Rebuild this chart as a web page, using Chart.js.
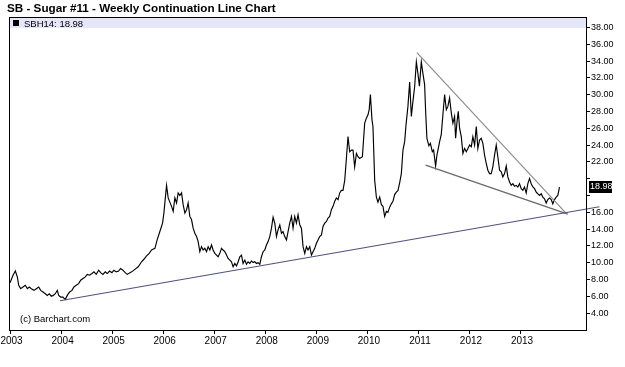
<!DOCTYPE html>
<html><head><meta charset="utf-8">
<script src="https://cdn.jsdelivr.net/npm/chart.js@4/dist/chart.umd.min.js"></script>
<style>html,body{margin:0;padding:0;background:#fff;}canvas{display:block;}</style>
</head><body>
<canvas id="c" width="625" height="367"></canvas>
<script>
const titleText = 'SB - Sugar #11 - Weekly Continuation Line Chart';
const seriesLabel = 'SBH14';
const lastPrice = 18.98;
const creditText = '(c) Barchart.com';

const years = [
2003.000,2003.059,2003.104,2003.143,2003.170,2003.209,2003.254,2003.299,2003.339,2003.378,
2003.417,2003.470,2003.515,2003.562,2003.601,2003.646,2003.691,2003.730,2003.769,2003.808,
2003.847,2003.886,2003.926,2003.953,2003.992,2004.037,2004.082,2004.121,2004.168,2004.213,
2004.252,2004.297,2004.344,2004.384,2004.429,2004.474,2004.513,2004.560,2004.605,2004.644,
2004.689,2004.736,2004.775,2004.820,2004.865,2004.904,2004.951,2004.996,2005.035,2005.080,
2005.127,2005.166,2005.211,2005.256,2005.295,2005.382,2005.446,2005.511,2005.577,2005.622,
2005.675,2005.726,2005.773,2005.838,2005.882,2005.935,2005.988,2006.014,2006.039,2006.066,
2006.098,2006.131,2006.164,2006.196,2006.229,2006.262,2006.293,2006.327,2006.360,2006.391,
2006.425,2006.458,2006.489,2006.522,2006.556,2006.587,2006.620,2006.654,2006.685,2006.718,
2006.751,2006.783,2006.816,2006.849,2006.881,2006.914,2006.947,2006.978,2007.012,2007.045,
2007.076,2007.109,2007.143,2007.174,2007.207,2007.241,2007.272,2007.305,2007.338,2007.370,
2007.403,2007.436,2007.468,2007.501,2007.534,2007.565,2007.599,2007.632,2007.663,2007.697,
2007.730,2007.761,2007.794,2007.828,2007.859,2007.892,2007.925,2007.957,2007.990,2008.023,
2008.055,2008.088,2008.121,2008.153,2008.186,2008.219,2008.250,2008.284,2008.317,2008.348,
2008.381,2008.415,2008.446,2008.479,2008.513,2008.544,2008.577,2008.610,2008.642,2008.675,
2008.708,2008.740,2008.773,2008.806,2008.837,2008.871,2008.904,2008.935,2008.969,2009.002,
2009.033,2009.066,2009.100,2009.131,2009.164,2009.198,2009.229,2009.262,2009.295,2009.327,
2009.360,2009.393,2009.425,2009.458,2009.491,2009.522,2009.556,2009.589,2009.620,2009.653,
2009.687,2009.718,2009.751,2009.785,2009.816,2009.849,2009.902,2009.947,2009.980,2010.012,
2010.035,2010.059,2010.090,2010.109,2010.143,2010.176,2010.207,2010.241,2010.274,2010.305,
2010.338,2010.372,2010.403,2010.436,2010.469,2010.501,2010.534,2010.567,2010.599,2010.632,
2010.665,2010.697,2010.730,2010.755,2010.794,2010.828,2010.861,2010.892,2010.925,2010.959,
2010.990,2011.019,2011.056,2011.088,2011.121,2011.141,2011.166,2011.205,2011.233,2011.272,
2011.297,2011.336,2011.362,2011.389,2011.415,2011.448,2011.479,2011.513,2011.546,2011.577,
2011.610,2011.644,2011.675,2011.708,2011.728,2011.753,2011.780,2011.806,2011.839,2011.871,
2011.904,2011.937,2011.969,2012.002,2012.035,2012.066,2012.100,2012.133,2012.164,2012.197,
2012.230,2012.262,2012.295,2012.328,2012.360,2012.393,2012.426,2012.457,2012.491,2012.524,
2012.555,2012.589,2012.622,2012.653,2012.687,2012.720,2012.751,2012.785,2012.818,2012.849,
2012.882,2012.916,2012.947,2012.980,2013.013,2013.045,2013.078,2013.111,2013.143,2013.176,
2013.209,2013.241,2013.274,2013.307,2013.338,2013.372,2013.405,2013.436,2013.469,2013.503,
2013.534,2013.567,2013.600,2013.632,2013.665,2013.698,2013.730,2013.763
];
const prices = [
7.6,8.5,9.0,8.3,7.3,6.9,7.1,7.3,6.9,7.1,
6.9,6.7,6.9,7.1,6.7,6.5,6.3,6.1,6.3,6.0,
6.1,6.3,6.7,6.1,5.9,5.9,5.6,6.1,6.5,6.7,
7.1,7.3,7.5,7.9,8.1,8.3,8.6,8.5,8.7,8.9,
8.6,9.1,8.8,8.6,8.9,8.7,9.0,8.8,9.1,8.9,
9.0,9.3,9.1,8.8,8.6,8.9,9.2,9.5,10.1,10.4,
10.8,11.1,11.5,11.7,12.7,13.7,14.7,15.9,17.5,19.2,
17.7,17.2,16.7,16.1,17.7,17.1,18.3,18.0,18.3,16.9,
15.9,16.3,17.1,15.5,15.1,14.1,13.5,13.1,12.5,11.3,
11.9,11.5,11.7,11.3,11.9,11.5,12.1,11.5,11.1,10.9,
10.7,11.1,11.7,11.5,11.3,10.9,10.5,10.3,10.1,9.5,
9.9,9.6,10.1,10.7,10.9,9.9,10.3,9.8,10.1,9.9,
10.2,10.0,10.1,9.9,10.0,9.8,10.7,11.3,11.5,12.1,
12.5,13.1,14.1,15.4,14.7,13.1,13.9,14.5,13.5,13.7,
13.1,12.7,13.7,14.7,15.5,14.1,15.5,14.7,15.7,14.5,
14.1,11.9,11.1,11.9,11.5,11.9,10.9,11.3,11.7,12.3,
12.7,13.1,13.3,14.3,14.7,14.9,15.3,15.5,16.3,16.7,
17.3,17.7,17.5,18.3,18.6,18.6,19.8,22.4,25.0,23.2,
23.4,23.4,21.4,23.0,22.6,22.4,22.6,26.6,27.2,27.6,
28.2,30.0,27.0,26.2,19.8,17.8,17.2,17.8,16.9,16.7,
15.5,16.1,16.0,16.6,17.0,17.3,18.1,18.4,18.6,19.5,
20.6,23.4,24.4,26.3,28.6,31.5,27.4,29.2,30.9,33.9,
32.5,31.0,33.9,32.5,31.2,28.0,24.8,23.9,24.2,23.2,
23.4,21.5,22.8,23.6,24.4,25.3,27.6,30.0,28.2,28.6,
29.6,27.8,26.6,27.4,24.8,26.6,28.0,26.0,25.0,23.0,
23.6,23.2,23.6,24.0,23.8,25.0,24.0,26.2,23.6,24.6,
24.8,24.2,22.8,21.8,21.0,20.6,20.6,21.4,22.8,24.0,
22.6,21.0,20.8,20.2,20.6,21.5,20.2,19.6,19.2,19.4,
19.1,19.2,19.0,19.4,18.8,18.6,19.0,18.3,19.4,20.0,
19.4,19.0,18.8,18.4,18.2,18.0,18.2,17.8,17.6,17.1,
17.5,17.7,17.5,17.0,17.5,17.8,18.0,18.98
];

const yearTicks = [2003,2004,2005,2006,2007,2008,2009,2010,2011,2012,2013];
const priceTicks = [4,6,8,10,12,14,16,18,20,22,24,26,28,30,32,34,36,38];
const hiddenPriceTicks = [18,20];

const supportYears = [2003.978, 2014.546];
const supportPrices = [5.46, 16.65];
const upperYears = [2010.970, 2013.894];
const upperPrices = [34.99, 15.87];
const lowerYears = [2011.141, 2013.925];
const lowerPrices = [21.6, 15.77];

const FONT = '"Liberation Sans", Arial, sans-serif';
const toPoints = (xs, ys) => xs.map((x, i) => ({x: x, y: ys[i]}));

const decor = {
  id: 'decor',
  beforeDatasetsDraw(chart) {
    const {ctx, chartArea: a} = chart;
    ctx.save();
    ctx.fillStyle = '#e6e6fa';
    ctx.fillRect(a.left, a.top, a.right - a.left, 11);
    ctx.restore();
  },
  afterDraw(chart) {
    const {ctx, chartArea: a, scales} = chart;
    ctx.save();
    ctx.strokeStyle = '#000';
    ctx.lineWidth = 1;
    ctx.strokeRect(Math.round(a.left) + 0.5, Math.round(a.top) + 0.5,
                   Math.round(a.right - a.left), Math.round(a.bottom - a.top) - 1);
    // title
    ctx.fillStyle = '#000';
    ctx.textBaseline = 'alphabetic';
    ctx.textAlign = 'left';
    ctx.font = 'bold 11.7px ' + FONT;
    ctx.fillText(titleText, 7, 12);
    // legend
    ctx.fillRect(a.left + 4, a.top + 3, 6, 6);
    ctx.font = '9.5px ' + FONT;
    ctx.fillText(seriesLabel + ': ' + lastPrice.toFixed(2), a.left + 15, a.top + 10);
    // credit
    ctx.fillText(creditText, a.left + 11, a.bottom - 9);
    // last price box
    const y = scales.y.getPixelForValue(lastPrice);
    ctx.fillStyle = '#000';
    ctx.fillRect(a.right + 3, Math.round(y) - 6, 23, 12);
    ctx.fillStyle = '#fff';
    ctx.font = '9px ' + FONT;
    ctx.textBaseline = 'middle';
    ctx.fillText(lastPrice.toFixed(2), a.right + 4, Math.round(y));
    ctx.restore();
  }
};

new Chart(document.getElementById('c'), {
  type: 'line',
  data: {
    datasets: [
      {data: toPoints(supportYears, supportPrices), borderColor: '#52527e', borderWidth: 1.2, pointRadius: 0, clip: false},
      {data: toPoints(upperYears, upperPrices), borderColor: '#8c8c8c', borderWidth: 1.2, pointRadius: 0},
      {data: toPoints(lowerYears, lowerPrices), borderColor: '#6a6a6a', borderWidth: 1.4, pointRadius: 0},
      {data: toPoints(years, prices), borderColor: '#000', borderWidth: 1.15, pointRadius: 0, tension: 0}
    ]
  },
  options: {
    responsive: false,
    devicePixelRatio: 1,
    animation: false,
    layout: {padding: {left: 9, top: 17, right: 0, bottom: 0}},
    plugins: {legend: {display: false}, tooltip: {enabled: false}},
    scales: {
      x: {
        type: 'linear', min: 2002.98, max: 2014.282,
        afterBuildTicks: s => { s.ticks = yearTicks.map(v => ({value: v})); },
        afterFit: s => { s.height = 36; s.paddingLeft = 0; s.paddingRight = 0; },
        grid: {drawOnChartArea: false, drawTicks: true, tickLength: 3, color: '#000'},
        border: {display: false},
        ticks: {autoSkip: false, maxRotation: 0, padding: 1, labelOffset: 1.5, color: '#000',
                font: {family: FONT, size: 10}, callback: v => String(v)}
      },
      y: {
        type: 'linear', position: 'right', min: 1.86, max: 39.24,
        afterBuildTicks: s => { s.ticks = priceTicks.map(v => ({value: v})); },
        afterFit: s => { s.width = 39; s.paddingTop = 0; s.paddingBottom = 0; },
        grid: {drawOnChartArea: false, drawTicks: true, tickLength: 4, color: '#000'},
        border: {display: false},
        ticks: {padding: 1, color: '#000', font: {family: FONT, size: 9},
                callback: v => hiddenPriceTicks.includes(v) ? '' : v.toFixed(2)}
      }
    }
  },
  plugins: [decor]
});
</script>
</body></html>
